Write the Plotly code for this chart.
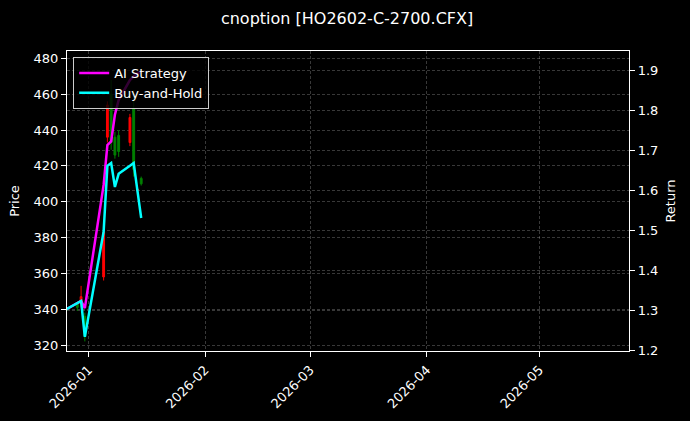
# data visualization
import plotly.graph_objects as go
from plotly.subplots import make_subplots


### data
dates = ['2025-12-26', '2025-12-29', '2025-12-30', '2025-12-31', '2026-01-05',
         '2026-01-06', '2026-01-07', '2026-01-08', '2026-01-09', '2026-01-12',
         '2026-01-13', '2026-01-14', '2026-01-15']

# option price candles
open_px  = [339, 341, 347, 325, 383, 454, 433, 426, 428, 447, 418, 407, 410]
high_px  = [342, 344, 353, 338, 386, 456, 468, 439, 440, 449, 462, 409, 414]
low_px   = [337, 339, 341, 322, 356, 433, 429, 424, 425, 431, 414, 404, 409]
close_px = [341, 343, 343, 336, 358, 436, 460, 436, 437, 433, 452, 406, 413]

# cumulative returns
ai_return = [1.302, 1.317, 1.323, 1.305, 1.614, 1.714, 1.723, 1.790, 1.827,
             1.877, 1.887, 1.895, 1.897]
bh_return = [1.302, 1.317, 1.323, 1.233, 1.497, 1.662, 1.669, 1.609, 1.642,
             1.662, 1.669, 1.599, 1.531]

price_ticks = [320, 340, 360, 380, 400, 420, 440, 460, 480]
return_ticks = [1.2, 1.3, 1.4, 1.5, 1.6, 1.7, 1.8, 1.9]

title = 'cnoption [HO2602-C-2700.CFX]'

#### plot
font = 'DejaVu Sans'
grid = 'rgba(255,255,255,0.22)'

fig = make_subplots(specs=[[{'secondary_y': True}]])

# price candles on the left axis
fig.add_trace(go.Candlestick(x=dates, open=open_px, high=high_px, low=low_px, close=close_px,
                             increasing=dict(line=dict(color='#008000', width=1), fillcolor='#008000'),
                             decreasing=dict(line=dict(color='#ff0000', width=1), fillcolor='#ff0000'),
                             whiskerwidth=0, showlegend=False, name='Price'),
              secondary_y=False)

# strategy returns on the right axis
fig.add_trace(go.Scatter(x=dates, y=ai_return, mode='lines', line=dict(color='#ff00ff', width=2.5),
                         name='AI Strategy'), secondary_y=True)
fig.add_trace(go.Scatter(x=dates, y=bh_return, mode='lines', line=dict(color='#00ffff', width=2.5),
                         name='Buy-and-Hold'), secondary_y=True)

fig.update_layout(
    width=690, height=421,
    margin=dict(l=67, r=61, t=51, b=70),
    paper_bgcolor='black', plot_bgcolor='black',
    font=dict(family=font, size=13, color='white'),
    title=dict(text=title, x=0.503, xanchor='center', y=0.957, yanchor='middle',
               font=dict(family=font, size=16, color='white')),
    legend=dict(x=0.011, y=0.98, xanchor='left', yanchor='top',
                bgcolor='rgba(0,0,0,0.8)', bordercolor='#cccccc', borderwidth=1,
                font=dict(family=font, size=13, color='white'),
                tracegroupgap=0, itemwidth=30),
    showlegend=True,
)

fig.update_xaxes(type='date', range=['2025-12-26 06:00', '2026-05-24 20:00'], domain=[0, 1],
                 tick0='2026-01-01', dtick='M1', tickformat='%Y-%m', tickangle=-45,
                 ticks='outside', ticklen=5, tickcolor='white', automargin=False,
                 showline=True, linecolor='white', linewidth=1.2, mirror=True,
                 showgrid=True, gridcolor=grid, gridwidth=0.5, griddash='3px,2px',
                 zeroline=False, rangeslider=dict(visible=False),
                 tickfont=dict(size=13, color='white'))

fig.update_yaxes(title_text='Price', title_font=dict(size=13, color='white'),
                 range=[316.65, 484.1], tickvals=price_ticks,
                 ticks='outside', ticklen=5, tickcolor='white', automargin=False,
                 showline=True, linecolor='white', linewidth=1.2,
                 showgrid=True, gridcolor=grid, gridwidth=0.5, griddash='3px,2px',
                 zeroline=False, title_standoff=10,
                 tickfont=dict(size=13, color='white'), secondary_y=False)

fig.update_yaxes(title_text='Return', title_font=dict(size=13, color='white'),
                 range=[1.1975, 1.950], tickvals=return_ticks,
                 tickformat='.1f', ticks='outside', ticklen=5, tickcolor='white', automargin=False,
                 showline=True, linecolor='white', linewidth=1.2,
                 showgrid=True, gridcolor=grid, gridwidth=0.5, griddash='3px,2px',
                 zeroline=False, title_standoff=8,
                 tickfont=dict(size=13, color='white'), secondary_y=True)

fig.write_html('out.html', config={'displayModeBar': False},
               post_script="document.body.style.margin='0';")
